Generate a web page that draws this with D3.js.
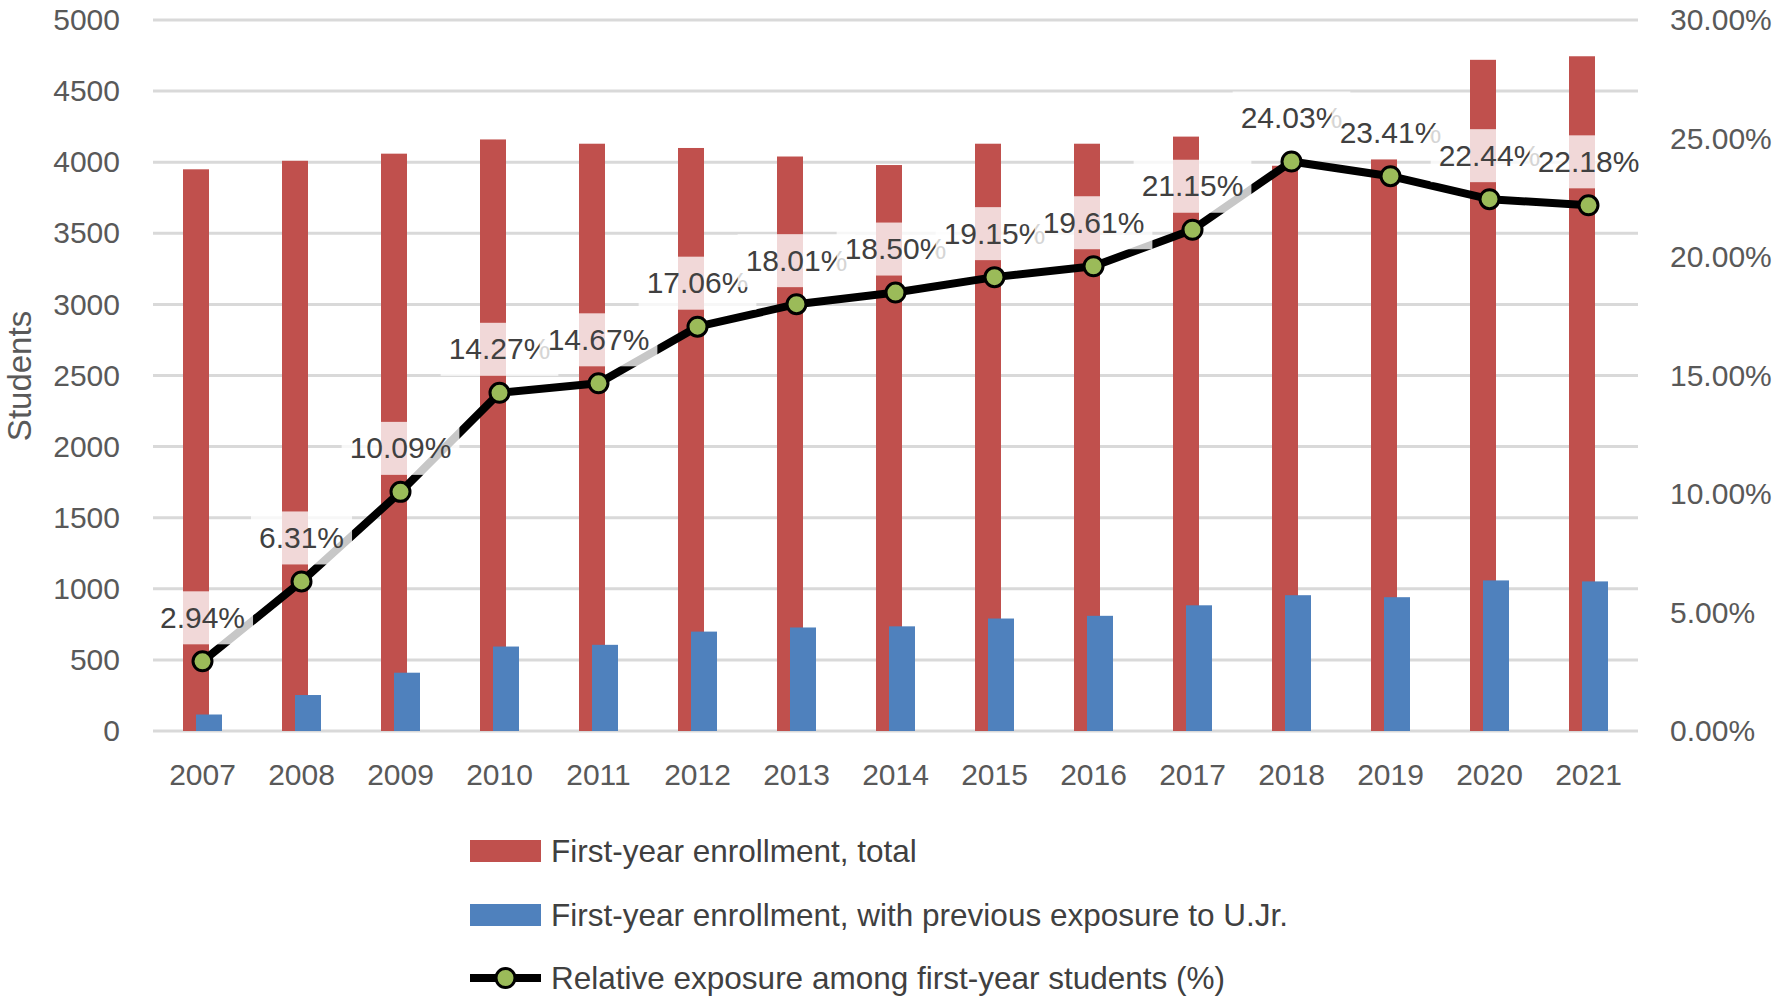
<!DOCTYPE html>
<html>
<head>
<meta charset="utf-8">
<script src="https://cdn.jsdelivr.net/npm/d3@7"></script>
<style>
  body { margin: 0; background: #ffffff; }
  text { font-family: "Liberation Sans", Arial, sans-serif; }
</style>
</head>
<body>
<div id="chart"></div>
<script>
// data
const years = ["2007","2008","2009","2010","2011","2012","2013","2014","2015","2016","2017","2018","2019","2020","2021"];
const totalEnrollment = [3950, 4010, 4060, 4160, 4130, 4100, 4040, 3980, 4130, 4130, 4180, 3975, 4020, 4720, 4745];
const exposedEnrollment = [116, 253, 410, 594, 606, 699, 728, 736, 791, 810, 884, 955, 941, 1059, 1052];
const relativeExposure = [0.0294, 0.0631, 0.1009, 0.1427, 0.1467, 0.1706, 0.1801, 0.1850, 0.1915, 0.1961, 0.2115, 0.2403, 0.2341, 0.2244, 0.2218];
const leftTicks = [0, 500, 1000, 1500, 2000, 2500, 3000, 3500, 4000, 4500, 5000];
const rightTicks = [0, 0.05, 0.10, 0.15, 0.20, 0.25, 0.30];
const legendLabels = ["First-year enrollment, total", "First-year enrollment, with previous exposure to U.Jr.", "Relative exposure among first-year students (%)"];

const width = 1775, height = 1000;
const plot = {left: 153, right: 1638, top: 20, bottom: 731};

const svg = d3.select("#chart")
  .append("svg")
    .attr("width", width)
    .attr("height", height);

// scales
const xScale = d3.scaleBand().domain(years).range([plot.left, plot.right]).padding(0);
const yLeft = d3.scaleLinear().domain([0, 5000]).range([plot.bottom, plot.top]);
const yRight = d3.scaleLinear().domain([0, 0.30]).range([plot.bottom, plot.top]);
const cx = d => xScale(d) + xScale.bandwidth() / 2;
const barW = 26;

// gridlines
svg.append("g")
  .selectAll("line")
  .data(leftTicks)
  .join("line")
    .attr("x1", plot.left)
    .attr("x2", plot.right)
    .attr("y1", d => yLeft(d))
    .attr("y2", d => yLeft(d))
    .style("stroke", "#d9d9d9")
    .style("stroke-width", 3);

// left axis labels
const leftAxis = svg.append("g")
  .attr("transform", "translate(" + plot.left + ",0)")
  .call(d3.axisLeft(yLeft).tickValues(leftTicks).tickSize(0).tickPadding(33).tickFormat(d3.format("d")));
leftAxis.select(".domain").remove();
leftAxis.selectAll("text")
  .style("font-size", "30px")
  .style("fill", "#595959");

// right axis labels
const rightAxis = svg.append("g")
  .attr("transform", "translate(" + plot.right + ",0)")
  .call(d3.axisRight(yRight).tickValues(rightTicks).tickSize(0).tickPadding(32).tickFormat(d3.format(".2%")));
rightAxis.select(".domain").remove();
rightAxis.selectAll("text")
  .style("font-size", "30px")
  .style("fill", "#595959");

// bottom axis labels
const bottomAxis = svg.append("g")
  .attr("transform", "translate(0," + plot.bottom + ")")
  .call(d3.axisBottom(xScale).tickSize(0).tickPadding(33));
bottomAxis.select(".domain").remove();
bottomAxis.selectAll("text")
  .style("font-size", "30px")
  .style("fill", "#595959");

// y axis title
svg.append("text")
  .attr("transform", "translate(31,376) rotate(-90)")
  .style("text-anchor", "middle")
  .style("font-size", "33px")
  .style("fill", "#595959")
  .text("Students");

// total bars
svg.append("g")
  .selectAll("rect")
  .data(years)
  .join("rect")
    .attr("x", d => cx(d) - 19.5)
    .attr("y", (d, i) => yLeft(totalEnrollment[i]))
    .attr("width", barW)
    .attr("height", (d, i) => yLeft(0) - yLeft(totalEnrollment[i]))
    .style("fill", "#c0504d");

// exposure bars
svg.append("g")
  .selectAll("rect")
  .data(years)
  .join("rect")
    .attr("x", d => cx(d) - 6.5)
    .attr("y", (d, i) => yLeft(exposedEnrollment[i]))
    .attr("width", barW)
    .attr("height", (d, i) => yLeft(0) - yLeft(exposedEnrollment[i]))
    .style("fill", "#4f81bd");

// relative exposure line
const pts = years.map((d, i) => ({year: d, value: relativeExposure[i]}));
const valueline = d3.line()
  .x(d => cx(d.year))
  .y(d => yRight(d.value));

svg.append("path")
  .datum(pts)
  .attr("d", valueline)
  .style("fill", "none")
  .style("stroke", "#000000")
  .style("stroke-width", 8)
  .style("stroke-linejoin", "round");

svg.append("g")
  .selectAll("circle")
  .data(pts)
  .join("circle")
    .attr("cx", d => cx(d.year))
    .attr("cy", d => yRight(d.value))
    .attr("r", 9.5)
    .style("fill", "#9bbb59")
    .style("stroke", "#000000")
    .style("stroke-width", 3);

// data labels with a see-through white box
const labels = svg.append("g")
  .selectAll("g")
  .data(pts)
  .join("g")
    .attr("transform", d => "translate(" + cx(d.year) + "," + (yRight(d.value) - 44) + ")");

labels.append("text")
  .attr("text-anchor", "middle")
  .attr("dy", "0.35em")
  .style("font-size", "30px")
  .style("fill", "#404040")
  .text(d => d3.format(".2%")(d.value));

labels.each(function() {
  const g = d3.select(this);
  const bb = g.select("text").node().getBBox();
  g.insert("rect", "text")
    .attr("x", bb.x - 8)
    .attr("y", -26)
    .attr("width", bb.width + 16)
    .attr("height", 53)
    .style("fill", "#ffffff")
    .style("fill-opacity", 0.78);
});

// legend
const legendY = [851, 915, 978];
const legend = svg.append("g");

legend.append("rect")
  .attr("x", 470).attr("y", legendY[0] - 11)
  .attr("width", 71).attr("height", 22)
  .style("fill", "#c0504d");
legend.append("rect")
  .attr("x", 470).attr("y", legendY[1] - 11)
  .attr("width", 71).attr("height", 22)
  .style("fill", "#4f81bd");
legend.append("line")
  .attr("x1", 470).attr("x2", 541)
  .attr("y1", legendY[2]).attr("y2", legendY[2])
  .style("stroke", "#000000")
  .style("stroke-width", 8);
legend.append("circle")
  .attr("cx", 505.5).attr("cy", legendY[2])
  .attr("r", 9.5)
  .style("fill", "#9bbb59")
  .style("stroke", "#000000")
  .style("stroke-width", 3);

legend.selectAll("text")
  .data(legendLabels)
  .join("text")
    .attr("x", 551)
    .attr("y", (d, i) => legendY[i])
    .attr("dy", "0.35em")
    .style("font-size", "31.5px")
    .style("fill", "#404040")
    .text(d => d);
</script>
</body>
</html>
